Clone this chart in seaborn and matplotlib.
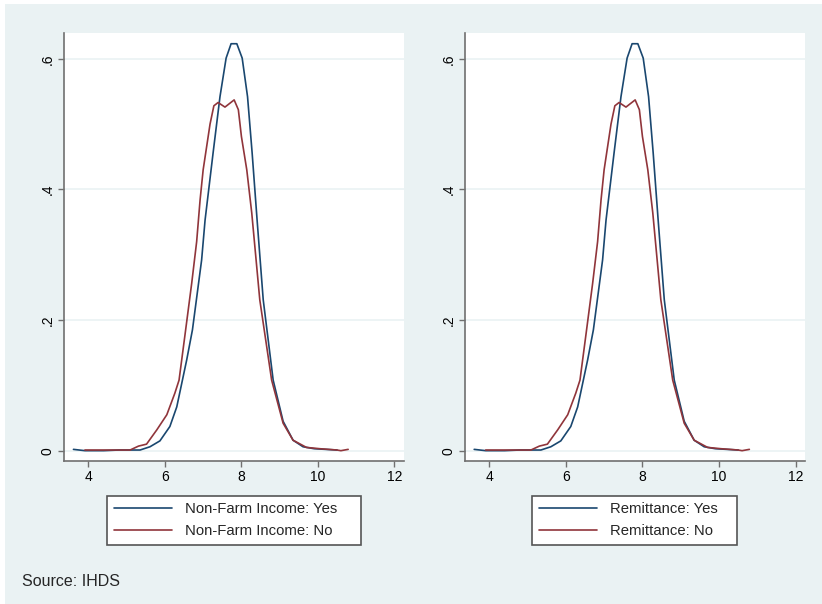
import matplotlib.pyplot as plt
import seaborn as sns
from matplotlib.patches import Rectangle

# density of log consumption (same curves in both panels)
x_yes = [3.61, 3.91, 4.4, 4.8, 5.35, 5.61, 5.87, 6.13, 6.31, 6.57, 6.72, 6.96, 7.05,
         7.26, 7.44, 7.60, 7.73, 7.88, 8.02, 8.16, 8.28, 8.41, 8.57, 8.83, 9.09,
         9.35, 9.61, 9.9, 10.2, 10.5]
d_yes = [0.002, 0.0, 0.0, 0.001, 0.001, 0.006, 0.015, 0.037, 0.067, 0.139, 0.185, 0.292, 0.353,
         0.456, 0.542, 0.601, 0.623, 0.623, 0.601, 0.542, 0.456, 0.353, 0.231, 0.108, 0.045,
         0.016, 0.006, 0.003, 0.002, 0.001]

x_no = [3.91, 4.5, 5.09, 5.31, 5.52, 5.79, 6.05, 6.26, 6.37, 6.52, 6.70, 6.83, 6.92,
        7.0, 7.18, 7.28, 7.39, 7.57, 7.81, 7.92, 8.0, 8.14, 8.27, 8.48, 8.79,
        9.09, 9.35, 9.70, 10.05, 10.5, 10.6, 10.79]
d_no = [0.001, 0.001, 0.001, 0.007, 0.010, 0.032, 0.055, 0.088, 0.108, 0.175, 0.256, 0.320, 0.384,
        0.430, 0.500, 0.528, 0.533, 0.526, 0.537, 0.522, 0.481, 0.430, 0.364, 0.231, 0.108,
        0.042, 0.016, 0.005, 0.003, 0.001, 0.0, 0.002]

panel_labels = [("Non-Farm Income: Yes", "Non-Farm Income: No"),
                ("Remittance: Yes", "Remittance: No")]
xticks = [4, 6, 8, 10, 12]
yticks = [0, .2, .4, .6]
ytick_labels = ["0", ".2", ".4", ".6"]
source_note = "Source: IHDS"

bg = "#eaf2f3"
blue = "#1a476f"
red = "#90353b"
axis_grey = "#707070"

sns.set_theme(style="white")
plt.rcParams['font.family'] = ['Liberation Sans', 'DejaVu Sans']

fig = plt.figure(figsize=(8.22, 6.04), dpi=100, facecolor="white")
fig.patches.append(Rectangle((5 / 822, 0), 1, 1 - 4 / 604, transform=fig.transFigure,
                             facecolor=bg, edgecolor="none", zorder=-10))

ax_rects = [[0.0782, 0.2373, 0.4133, 0.7076], [0.5657, 0.2373, 0.4140, 0.7076]]
legend_boxes = [(107 / 822, 254 / 822), (532 / 822, 205 / 822)]

for i, rect in enumerate(ax_rects):
    ax = fig.add_axes(rect)
    ax.set_facecolor("white")
    lab_yes, lab_no = panel_labels[i]
    sns.lineplot(x=x_yes, y=d_yes, ax=ax, color=blue, lw=1.2, label=lab_yes, sort=False)
    sns.lineplot(x=x_no, y=d_no, ax=ax, color=red, lw=1.2, label=lab_no, sort=False)

    ax.set_xlim(3.37, 12.25)
    ax.set_ylim(-0.0153, 0.639)
    ax.set_xticks(xticks)
    ax.set_yticks(yticks)
    ax.set_yticklabels(ytick_labels, rotation=90, va="center")
    ax.set_xlabel("")
    ax.set_ylabel("")
    for yv in yticks:
        ax.axhline(yv, color=bg, lw=1.2, zorder=0)

    for side in ["top", "right"]:
        ax.spines[side].set_visible(False)
    for side in ["left", "bottom"]:
        ax.spines[side].set_color(axis_grey)
        ax.spines[side].set_linewidth(1.2)
    ax.tick_params(axis="both", which="both", length=4.5, width=1, color=axis_grey,
                   labelsize=10, labelcolor="black", direction="out", pad=2.5)
    ax.tick_params(axis="x", bottom=True)
    ax.tick_params(axis="y", left=True)

    x0, w = legend_boxes[i]
    leg = ax.legend(loc="upper left", bbox_to_anchor=(x0, 0.0, w, 1 - 495.7 / 604),
                    bbox_transform=fig.transFigure, mode="expand", fontsize=10.7,
                    frameon=True, fancybox=False, framealpha=1, edgecolor="#555555",
                    handlelength=3.9, handletextpad=0.9, borderpad=0.45,
                    labelspacing=0.5, borderaxespad=0)
    leg.get_frame().set_linewidth(1.2)

fig.text(22 / 822, 1 - 581.5 / 604, source_note, fontsize=11.5, ha="left", va="center")

fig.savefig("out.png", dpi=100, facecolor=fig.get_facecolor())
